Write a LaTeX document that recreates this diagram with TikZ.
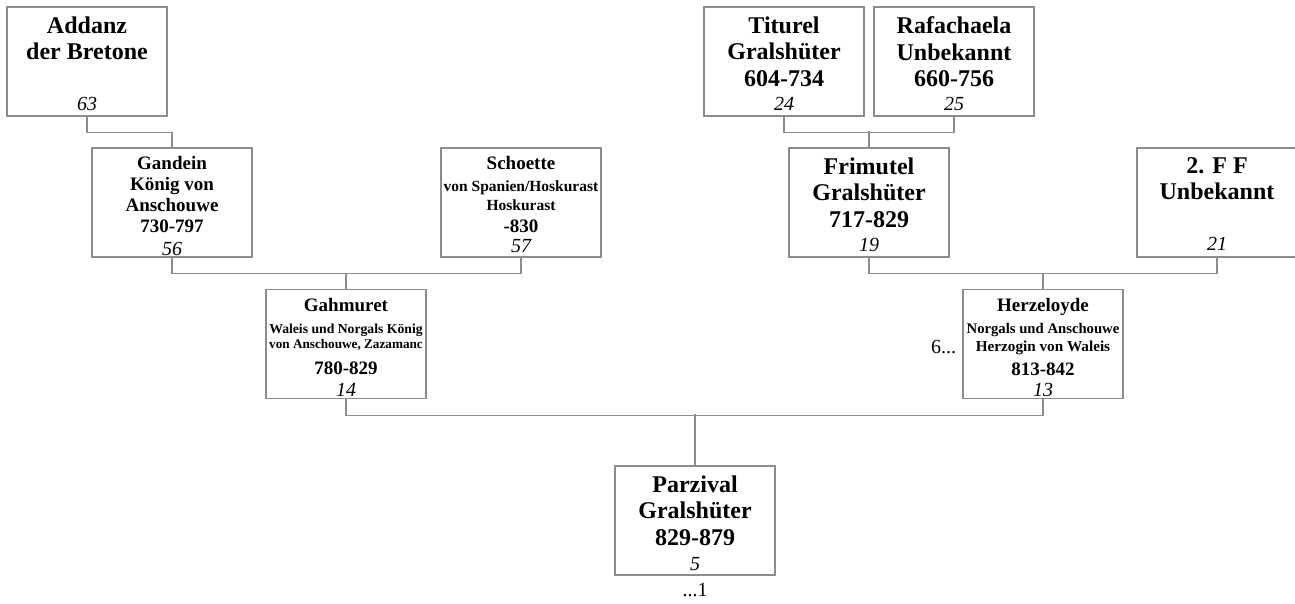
\documentclass[tikz,border=0pt]{standalone}
\usepackage{fontspec}
\setmainfont{Liberation Serif}
\usetikzlibrary{positioning}

\newcommand{\persub}[2]{{\fontsize{#1}{#1}\selectfont #2}}

\tikzset{
	person/.style={draw=black!45, line width=1.2pt, rectangle, minimum width=160pt, minimum height=109pt, inner sep=0pt},
	nametext/.style={anchor=north, align=center, inner sep=0pt, yshift=-10pt, font=\bfseries\fontsize{24}{26.5}\selectfont},
	midtext/.style={nametext, yshift=1pt, font=\bfseries\fontsize{19}{21}\selectfont},
	numtext/.style={anchor=base, inner sep=0pt, font=\itshape\fontsize{20}{20}\selectfont},
	link/.style={draw=black!45, line width=1.2pt}
}

\begin{document}
\begin{tikzpicture}[x=1pt, y=-1pt]
				\useasboundingbox (0,0) rectangle (1295,603);

				% Grandparents
				\node[person] (addanz) at (87,61.5) {};
				\node[nametext] (addanztext) at (addanz.north) {Addanz\\der Bretone};
				\node[numtext, yshift=6pt] (addanzno) at (addanz.south) {63};

				\node[person] (titurel) at (784,61.5) {};
				\node[nametext] (tituareltext) at (titurel.north) {Titurel\\Gralshüter\\604-734};
				\node[numtext, yshift=6pt] (titurelno) at (titurel.south) {24};

				\node[person] (rafachaela) at (954,61.5) {};
				\node[nametext] (rafachaelatext) at (rafachaela.north) {Rafachaela\\Unbekannt\\660-756};
				\node[numtext, yshift=6pt] (rafachaelano) at (rafachaela.south) {25};

				% Parents of Gahmuret and Herzeloyde
				\node[person] (gandein) at (172,202.5) {};
				\node[midtext] (gandeintext) at (gandein.north) {Gandein\\König von\\Anschouwe\\730-797};
				\node[numtext, yshift=2pt] (gandeinno) at (gandein.south) {56};

				\node[person] (schoette) at (521,202.5) {};
				\node[midtext, font=\bfseries\fontsize{19}{19.3}\selectfont] (schoettetext) at (schoette.north) {Schoette\\[2pt]\persub{15.5}{von Spanien/Hoskurast}\\\persub{15.5}{Hoskurast}\\[2.4pt]-830};
				\node[numtext, yshift=5pt] (schoetteno) at (schoette.south) {57};

				\node[person] (frimutel) at (869,202.5) {};
				\node[nametext] (frimuteltext) at (frimutel.north) {Frimutel\\Gralshüter\\717-829};
				\node[numtext, yshift=6pt] (frimutelno) at (frimutel.south) {19};

				\node[person] (ff) at (1217,202.5) {};
				\node[nametext] (fftext) at (ff.north) {2. F F\\Unbekannt};
				\node[numtext, yshift=7pt] (ffno) at (ff.south) {21};

				% Parents
				\node[person] (gahmuret) at (346,344) {};
				\node[midtext, font=\bfseries\fontsize{19}{15.6}\selectfont] (gahmurettext) at (gahmuret.north) {Gahmuret\\[6.4pt]\persub{13.7}{Waleis und Norgals König}\\\persub{13.2}{von Anschouwe, Zazamanc}\\[10.4pt]780-829};
				\node[numtext, yshift=3pt] (gahmuretno) at (gahmuret.south) {14};

				\node[person] (herzeloyde) at (1043,344) {};
				\node[midtext, font=\bfseries\fontsize{19}{17.4}\selectfont] (herzeloydetext) at (herzeloyde.north) {Herzeloyde\\[5.2pt]\persub{14.7}{Norgals und Anschouwe}\\\persub{15.2}{Herzogin von Waleis}\\[6.9pt]813-842};
				\node[numtext, yshift=2.5pt] (herzeloydeno) at (herzeloyde.south) {13};
				\node[anchor=base east, inner sep=0pt, font=\fontsize{20}{20}\selectfont] (herzeloydemore) at ([xshift=-6pt, yshift=-9pt]herzeloyde.west) {6...};

				% Child
				\node[person] (parzival) at (695,520.5) {};
				\node[nametext] (parzivaltext) at (parzival.north) {Parzival\\Gralshüter\\829-879};
				\node[numtext, yshift=5.5pt] (parzivalno) at (parzival.south) {5};
				\node[anchor=base, inner sep=0pt, font=\fontsize{20}{20}\selectfont] (parzivalmore) at ([yshift=-21pt]parzival.south) {...1};

				% Connectors
				\draw[link] (addanz.south) -- ++(0,16) -| (gandein.north);
				\draw[link] (titurel.south) -- ++(0,16) -| (rafachaela.south);
				\draw[link] (frimutel.north) -- ++(0,-16);
				\draw[link] (gandein.south) -- ++(0,16) -| (schoette.south);
				\draw[link] (gahmuret.north) -- ++(0,-16);
				\draw[link] (frimutel.south) -- ++(0,16) -| (ff.south);
				\draw[link] (herzeloyde.north) -- ++(0,-16);
				\draw[link] (gahmuret.south) -- ++(0,16) -| (herzeloyde.south);
				\draw[link] (parzival.north) -- ++(0,-51);
\end{tikzpicture}
\end{document}
